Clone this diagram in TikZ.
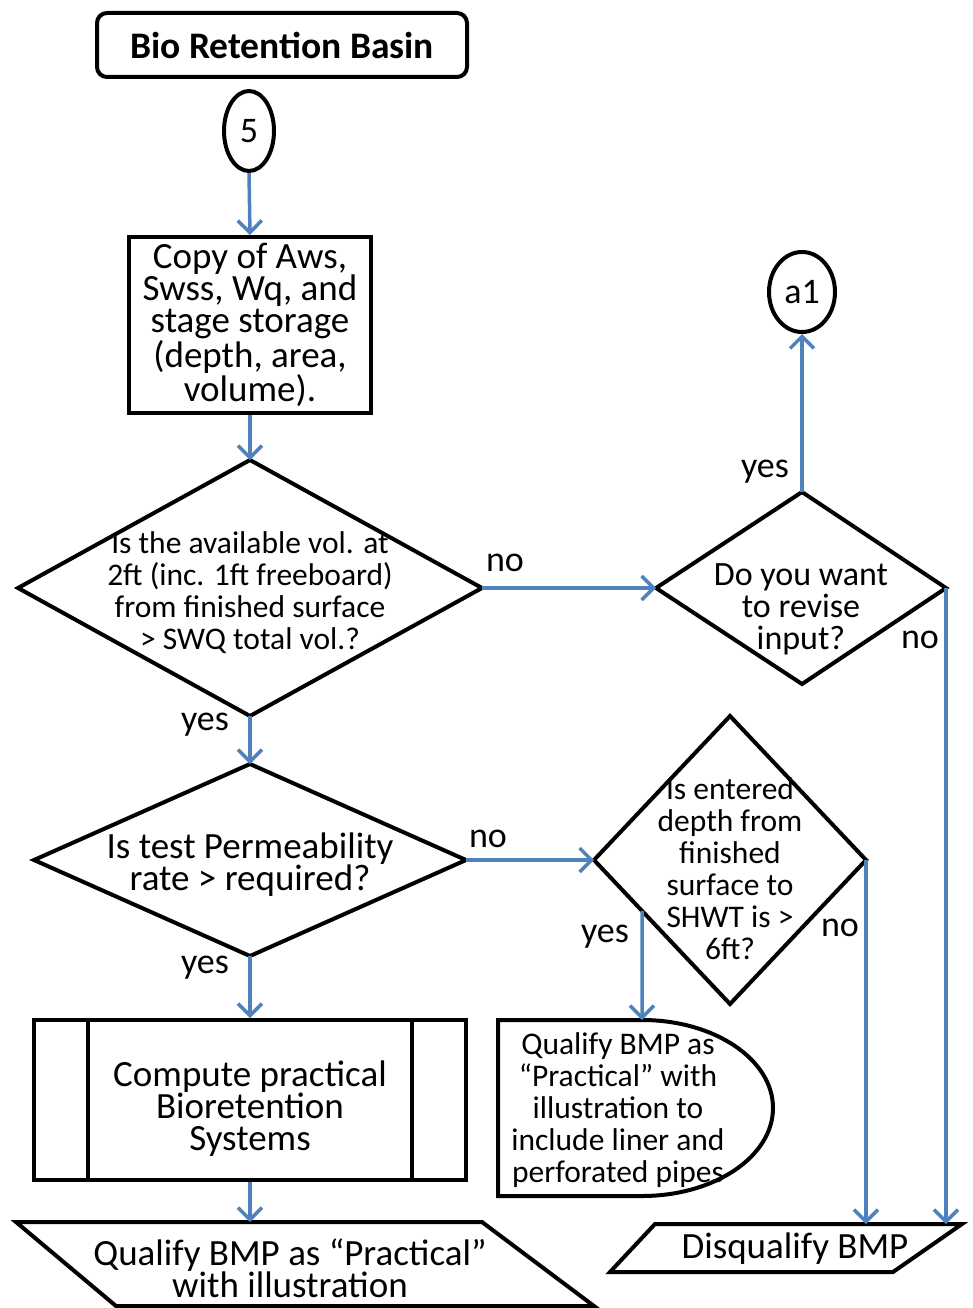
\documentclass[tikz,border=0pt]{standalone}
\usepackage{fontspec}
\setmainfont{Carlito}
\usetikzlibrary{arrows.meta,shapes.geometric,calc}
\definecolor{flowblue}{RGB}{79,129,189}
\begin{document}
\begin{tikzpicture}[x=1pt,y=-1pt,
  shapeline/.style={draw=black,line width=4pt,line join=miter},
  flow/.style={draw=flowblue,line width=3.5pt,-{Straight Barb[length=12pt,width=24pt,line width=3.5pt]}},
  bigtxt/.style={font=\fontsize{37}{32}\selectfont,align=center,inner sep=0pt},
  smalltxt/.style={font=\fontsize{31.5}{32}\selectfont,align=center,inner sep=0pt},
  lbl/.style={font=\fontsize{36}{32}\selectfont,inner sep=0pt}]
\useasboundingbox (0,0) rectangle (973,1308);

% title and entry connector
\node[shapeline,rounded corners=10pt,minimum width=370pt,minimum height=64pt,
      font=\fontsize{37.5}{32}\selectfont\bfseries,inner sep=0pt] (title) at (282,45) {Bio Retention Basin};
\node[shapeline,ellipse,minimum width=50pt,minimum height=80pt,inner sep=0pt,
      font=\fontsize{36}{32}\selectfont] (c5) at (249,131) {5};

% input data box
\node[shapeline,minimum width=242pt,minimum height=176pt,bigtxt] (copy) at (250,325)
  {Copy of Aws,\\Swss, Wq, and\\stage storage\\(depth, area,\\volume).};

% decision: available volume
\draw[shapeline] (250,460) coordinate (d1t) -- (482,588) coordinate (d1r)
  -- (250,716) coordinate (d1b) -- (18,588) coordinate (d1l) -- cycle;
\node[smalltxt] (q1) at (250,593)
  {Is the available vol. at\\2ft (inc. 1ft freeboard)\\from finished surface\\> SWQ total vol.?};

% decision: revise input
\draw[shapeline] (802,492) coordinate (d2t) -- (946,588) coordinate (d2r)
  -- (802,684) coordinate (d2b) -- (656,588) coordinate (d2l) -- cycle;
\node[bigtxt,font=\fontsize{34}{32}\selectfont] (q2) at (801,609) {Do you want\\to revise\\input?};
\node[shapeline,ellipse,minimum width=66pt,minimum height=80pt,inner sep=0pt,
      font=\fontsize{36}{32}\selectfont] (a1) at (802,292) {a1};

% decision: permeability
\draw[shapeline] (250,764) coordinate (d3t) -- (466,860) coordinate (d3r)
  -- (250,956) coordinate (d3b) -- (34,860) coordinate (d3l) -- cycle;
\node[bigtxt] (q3) at (250,865) {Is test Permeability\\rate > required?};

% decision: depth to SHWT
\draw[shapeline] (730,716) coordinate (d4t) -- (866,860) coordinate (d4r)
  -- (730,1004) coordinate (d4b) -- (594,860) coordinate (d4l) -- cycle;
\node[smalltxt] (q4) at (730,869)
  {Is entered\\depth from\\finished\\surface to\\SHWT is >\\6ft?};
\coordinate (d4y) at ($(d4l)!0.353!(d4b)$);

% predefined process
\node[shapeline,minimum width=432pt,minimum height=160pt,inner sep=0pt] (comp) at (250,1100) {};
\draw[shapeline] (88,1020) -- (88,1180);
\draw[shapeline] (412,1020) -- (412,1180);
\node[bigtxt] (comptxt) at (250,1109) {Compute practical\\Bioretention\\Systems};

% delay-shaped result
\draw[shapeline] (498,1020) coordinate (dl1) -- (642,1020) coordinate (dltop)
  arc[start angle=-90,end angle=90,x radius=131,y radius=88] -- (498,1196) -- cycle;
\node[smalltxt] (qual2) at (618,1110)
  {Qualify BMP as\\“Practical” with\\illustration to\\include liner and\\perforated pipes};

% output parallelograms
\draw[shapeline] (16,1222) -- (250,1222) coordinate (o1top) -- (482,1222)
  -- (594,1306) -- (116,1306) -- cycle;
\node[bigtxt] (qual1) at (290,1268) {Qualify BMP as “Practical”\\with illustration};
\draw[shapeline] (610,1272) -- (655,1224) -- (866,1224) coordinate (dqa)
  -- (946,1224) coordinate (dqb) -- (962,1224) -- (893,1272) -- cycle;
\node[bigtxt] (disq) at (795,1249) {Disqualify BMP};

% connectors
\draw[flow] (c5.south) -- (copy.north);
\draw[flow] (copy.south) -- (d1t);
\draw[flow] (d1r) -- (d2l);
\draw[flow] (d2t) -- (a1.south);
\draw[flow] (d2r) -- (dqb);
\draw[flow] (d1b) -- (d3t);
\draw[flow] (d3r) -- (d4l);
\draw[flow] (d4y) -- (dltop);
\draw[flow] (d4r) -- (dqa);
\draw[flow] (d3b) -- (comp.north);
\draw[flow] (comp.south) -- (o1top);

% branch labels
\node[lbl] (l1) at (505,563) {no};
\node[lbl] (l2) at (765,472) {yes};
\node[lbl] (l3) at (920,640) {no};
\node[lbl] (l4) at (205,725) {yes};
\node[lbl] (l5) at (488,839) {no};
\node[lbl] (l6) at (605,937) {yes};
\node[lbl] (l7) at (840,928) {no};
\node[lbl] (l8) at (205,968) {yes};
\end{tikzpicture}
\end{document}
